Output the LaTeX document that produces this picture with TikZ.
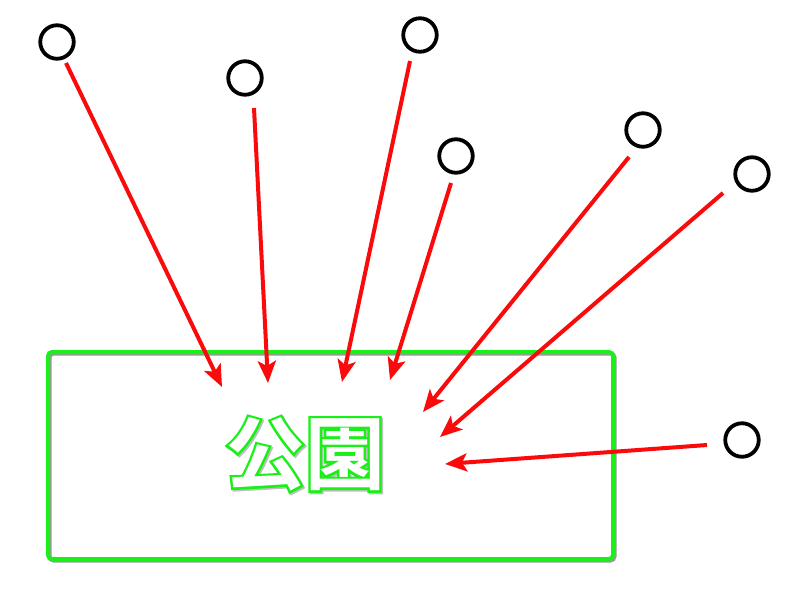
\documentclass[tikz,border=0pt]{standalone}
\usepackage{fontspec}
\usetikzlibrary{arrows.meta}
\newfontfamily\cjkfill{Noto Sans CJK JP Bold}
\newfontfamily\cjkline[FakeBold=6]{Noto Sans CJK JP Bold}
\definecolor{lgreen}{RGB}{24,240,24}
\definecolor{ared}{RGB}{250,10,10}
\tikzset{
  circ/.style={circle, draw=black, line width=3.8pt, minimum size=33.5pt, inner sep=0pt},
  arr/.style={draw=ared, line width=4pt, -{Stealth[length=22pt,width=18pt,inset=5pt]}},
  frame/.style={draw=lgreen, line width=4pt, rounded corners=4pt},
  shadowframe/.style={draw=black!40, line width=4pt, rounded corners=4pt},
  txt/.style={inner sep=0pt, font=\fontsize{80}{80}\selectfont}
}
\begin{document}
\begin{tikzpicture}[x=1pt, y=-1pt]
\useasboundingbox[fill=white] (0,0) rectangle (800,600);
% frame with shadow
\draw[shadowframe] (49.5,353.5) rectangle (614.5,560.5);
\draw[frame] (48,352) rectangle (613,559);
% text layers
\node[txt, text=black!25] (tshadow) at (306.5,455.5) {\cjkline 公園};
\node[txt, text=lgreen] (tline) at (305,454) {\cjkline 公園};
\node[txt, text=white] (title) at (305,454) {\cjkfill 公園};
% circles
\node[circ] (c1) at (57,42) {};
\node[circ] (c2) at (245,78) {};
\node[circ] (c3) at (420,35) {};
\node[circ] (c4) at (456,156) {};
\node[circ] (c5) at (643,130) {};
\node[circ] (c6) at (752,174) {};
\node[circ] (c7) at (742,440) {};
% arrow ends
\coordinate (s1) at (66,63);
\coordinate (s2) at (254,108);
\coordinate (s3) at (410,61);
\coordinate (s4) at (451,183);
\coordinate (s5) at (629,157);
\coordinate (s6) at (723,193);
\coordinate (s7) at (707,445);
\coordinate (t1) at (222,387);
\coordinate (t2) at (268,383);
\coordinate (t3) at (342,382);
\coordinate (t4) at (390,380);
\coordinate (t5) at (423,412);
\coordinate (t6) at (440,437);
\coordinate (t7) at (445,464);
\foreach \i in {1,...,7} {\draw[arr] (s\i) -- (t\i);}
\end{tikzpicture}
\end{document}
